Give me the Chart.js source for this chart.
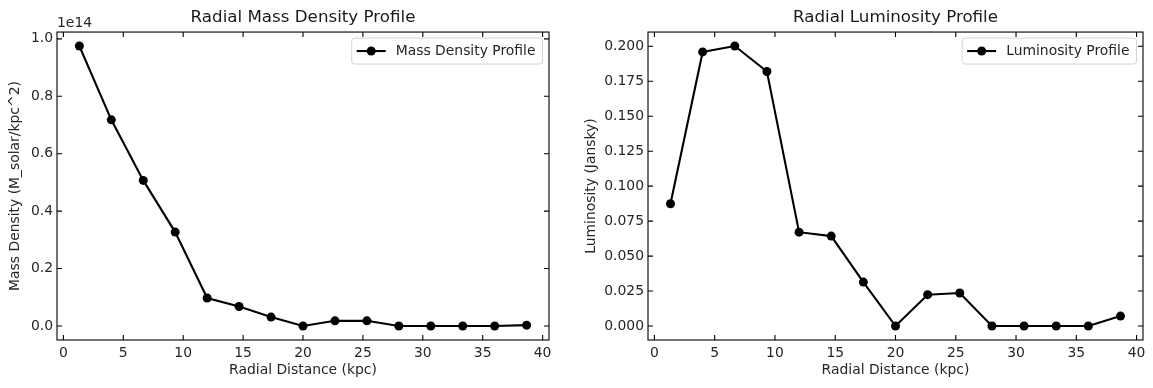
<!DOCTYPE html>
<html>
<head>
<meta charset="utf-8">
<script src="https://cdn.jsdelivr.net/npm/chart.js@4"></script>
<style>
  body { margin: 0; background: #fff; }
  #wrap { position: relative; width: 1153px; height: 388px; }
  canvas { position: absolute; top: 0; }
  #massChart { left: 0; }
  #lumChart { left: 576px; }
</style>
</head>
<body>
<div id="wrap">
  <canvas id="massChart" width="576" height="388"></canvas>
  <canvas id="lumChart" width="577" height="388"></canvas>
</div>
<script>
// bin centres (kpc)
const radius = [1.333, 4.0, 6.667, 9.333, 12.0, 14.667, 17.333, 20.0, 22.667, 25.333, 28.0, 30.667, 33.333, 36.0, 38.667];
// M_solar/kpc^2
const massDensity = [0.975e14, 0.718e14, 0.507e14, 0.327e14, 0.0975e14, 0.068e14, 0.031e14, 0, 0.018e14, 0.018e14, 0, 0, 0, 0, 0.003e14];
// Jansky
const luminosity = [0.0874, 0.196, 0.2002, 0.182, 0.0671, 0.0643, 0.0314, 0, 0.0224, 0.0236, 0, 0, 0, 0, 0.0071];

const xTicks = [0, 5, 10, 15, 20, 25, 30, 35, 40];
const massTicks = [0.0, 0.2, 0.4, 0.6, 0.8, 1.0]; // x 1e14
const lumTicks = [0.000, 0.025, 0.050, 0.075, 0.100, 0.125, 0.150, 0.175, 0.200];

const FONT = 'DejaVu Sans';
const TXT = '#262626';
const small = { family: FONT, size: 13.9 };

// box, inward ticks on all sides, legend and offset text (matplotlib look)
const frame = {
  id: 'frame',
  afterDraw(chart, args, opts) {
    const { ctx, chartArea: a, scales } = chart;
    ctx.save();
    ctx.strokeStyle = '#000';
    ctx.lineWidth = 1.1;
    ctx.strokeRect(a.left, a.top, a.width, a.height);

    const len = 5;
    ctx.beginPath();
    scales.x.ticks.forEach(t => {
      const px = scales.x.getPixelForValue(t.value);
      ctx.moveTo(px, a.bottom); ctx.lineTo(px, a.bottom - len);
      ctx.moveTo(px, a.top); ctx.lineTo(px, a.top + len);
    });
    scales.y.ticks.forEach(t => {
      const py = scales.y.getPixelForValue(t.value);
      ctx.moveTo(a.left, py); ctx.lineTo(a.left + len, py);
      ctx.moveTo(a.right, py); ctx.lineTo(a.right - len, py);
    });
    ctx.stroke();

    ctx.font = '13.9px "' + FONT + '"';
    ctx.fillStyle = TXT;
    if (opts.offsetText) {
      ctx.textAlign = 'left';
      ctx.textBaseline = 'alphabetic';
      ctx.fillText(opts.offsetText, a.left, a.top - 5);
    }

    // legend
    const label = chart.data.datasets[0].label;
    const tw = ctx.measureText(label).width;
    const w = 5 + 29 + 10 + tw + 7, h = 26;
    const right = a.right - 6.5, top = a.top + 6;
    const left = right - w, r = 3;
    ctx.beginPath();
    ctx.moveTo(left + r, top);
    ctx.lineTo(right - r, top); ctx.arcTo(right, top, right, top + r, r);
    ctx.lineTo(right, top + h - r); ctx.arcTo(right, top + h, right - r, top + h, r);
    ctx.lineTo(left + r, top + h); ctx.arcTo(left, top + h, left, top + h - r, r);
    ctx.lineTo(left, top + r); ctx.arcTo(left, top, left + r, top, r);
    ctx.closePath();
    ctx.fillStyle = 'rgba(255,255,255,0.8)';
    ctx.fill();
    ctx.strokeStyle = '#d4d4d4';
    ctx.lineWidth = 1;
    ctx.stroke();

    const cy = top + h / 2;
    ctx.strokeStyle = '#000';
    ctx.lineWidth = 2.1;
    ctx.beginPath();
    ctx.moveTo(left + 5, cy); ctx.lineTo(left + 34, cy);
    ctx.stroke();
    ctx.fillStyle = '#000';
    ctx.beginPath();
    ctx.arc(left + 19.5, cy, 4.5, 0, Math.PI * 2);
    ctx.fill();
    ctx.fillStyle = TXT;
    ctx.textAlign = 'left';
    ctx.textBaseline = 'middle';
    ctx.fillText(label, left + 44, cy);
    ctx.restore();
  }
};

function makeChart(id, cfg) {
  const ctx = document.getElementById(id).getContext('2d');
  return new Chart(ctx, {
    type: 'line',
    data: {
      datasets: [{
        label: cfg.label,
        data: radius.map((r, i) => ({ x: r, y: cfg.values[i] })),
        borderColor: '#000',
        backgroundColor: '#000',
        borderWidth: 2.1,
        pointRadius: 4.5,
        pointBorderWidth: 0,
        pointBackgroundColor: '#000',
        tension: 0,
      }],
    },
    options: {
      responsive: false,
      animation: false,
      devicePixelRatio: 1,
      layout: { padding: { left: 0, right: cfg.padRight, top: 0, bottom: 0 } },
      plugins: {
        legend: { display: false },
        tooltip: { enabled: false },
        title: {
          display: true,
          text: cfg.title,
          fullSize: false,
          color: '#1a1a1a',
          font: { family: FONT, size: 16.7, weight: 'normal' },
          padding: { top: 8, bottom: 4 },
        },
        frame: { offsetText: cfg.offsetText },
      },
      scales: {
        x: {
          type: 'linear',
          min: -0.533,
          max: 40.533,
          grid: { display: false, drawTicks: false },
          border: { display: false },
          afterBuildTicks: s => { s.ticks = xTicks.map(v => ({ value: v })); },
          afterFit: s => { s.height = 48; },
          ticks: { padding: 5, font: small, color: TXT, maxRotation: 0, autoSkip: false, callback: v => String(v) },
          title: { display: true, text: 'Radial Distance (kpc)', font: small, color: TXT, padding: { top: 0, bottom: 9 } },
        },
        y: {
          type: 'linear',
          min: cfg.yMin,
          max: cfg.yMax,
          grid: { display: false, drawTicks: false },
          border: { display: false },
          afterBuildTicks: s => { s.ticks = cfg.ticks.map(v => ({ value: v * cfg.unit })); },
          afterFit: s => { s.width = cfg.yWidth; },
          ticks: { padding: 4, font: small, color: TXT, autoSkip: false, callback: v => (v / cfg.unit).toFixed(cfg.decimals) },
          title: { display: true, text: cfg.yLabel, font: small, color: TXT, padding: { top: 7, bottom: 0 } },
        },
      },
    },
    plugins: [frame],
  });
}

makeChart('massChart', {
  label: 'Mass Density Profile',
  title: 'Radial Mass Density Profile',
  yLabel: 'Mass Density (M_solar/kpc^2)',
  values: massDensity,
  ticks: massTicks,
  unit: 1e14,
  decimals: 1,
  offsetText: '1e14',
  yMin: -0.04875e14,
  yMax: 1.02375e14,
  yWidth: 57,
  padRight: 27,
});

makeChart('lumChart', {
  label: 'Luminosity Profile',
  title: 'Radial Luminosity Profile',
  yLabel: 'Luminosity (Jansky)',
  values: luminosity,
  ticks: lumTicks,
  unit: 1,
  decimals: 3,
  offsetText: null,
  yMin: -0.01001,
  yMax: 0.21021,
  yWidth: 72,
  padRight: 10,
});
</script>
</body>
</html>
